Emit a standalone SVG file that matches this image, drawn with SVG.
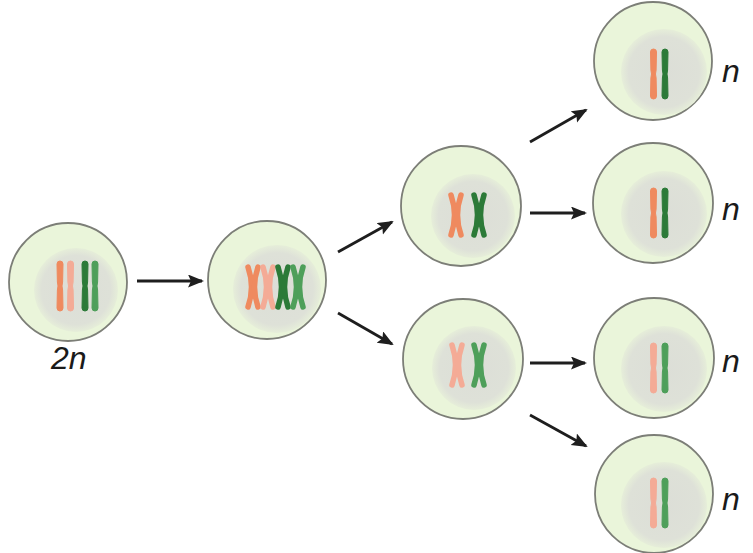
<svg xmlns="http://www.w3.org/2000/svg" width="753" height="553" viewBox="0 0 753 553">
  <style>
    .cell { fill: #eaf5da; stroke: #7c7e77; stroke-width: 1.8; }
    .nuc { fill: url(#nucGrad); }
    .arrow { stroke: #1e1e1e; stroke-width: 2.8; fill: none; marker-end: url(#head); }
    .lbl { font-family: "Liberation Sans", Arial, sans-serif; font-style: italic; font-size: 32px; fill: #1a1a1a; }
    .orange { fill: #ef8a5f; stroke: #ef8a5f; }
    .pink { fill: #f4ab96; stroke: #f4ab96; }
    .dkgreen { fill: #2c7a38; stroke: #2c7a38; }
    .mdgreen { fill: #4e9f5a; stroke: #4e9f5a; }
    .chromatid { fill: none; stroke-width: 5.5; stroke-linecap: round; }
  </style>
  <defs>
    <radialGradient id="nucGrad">
      <stop offset="0" stop-color="#dcded7"/>
      <stop offset="0.82" stop-color="#dee1d8"/>
      <stop offset="1" stop-color="#e6eed9"/>
    </radialGradient>
    <marker id="head" markerUnits="userSpaceOnUse" markerWidth="18" markerHeight="14" refX="14" refY="6.5" orient="auto">
      <path d="M0,0 L16,6.5 L0,13 L3,6.5 Z" fill="#1e1e1e"/>
    </marker>
    <!-- single unreplicated chromosome, pinched at the centromere -->
    <path id="bar" d="M-3,-22 Q-3,-25 0,-25 Q3,-25 3,-22 L2.6,-4 Q1.4,0 2.6,4 L3,22 Q3,25 0,25 Q-3,25 -3,22 L-2.6,4 Q-1.4,0 -2.6,-4 Z"/>
    <!-- replicated chromosome: two sister chromatids joined at the centromere -->
    <g id="xchrom">
      <path class="chromatid" d="M-5,-20 Q2,0 -5,20"/>
      <path class="chromatid" d="M5,-20 Q-2,0 5,20"/>
    </g>
  </defs>

  <!-- connectors -->
  <g id="connectors">
    <line class="arrow" x1="137" y1="281" x2="202" y2="281"/>
    <line class="arrow" x1="338" y1="252" x2="392" y2="222"/>
    <line class="arrow" x1="338" y1="313" x2="392" y2="344"/>
    <line class="arrow" x1="530" y1="142" x2="586" y2="110"/>
    <line class="arrow" x1="530" y1="213" x2="585" y2="213"/>
    <line class="arrow" x1="530" y1="363" x2="585" y2="363"/>
    <line class="arrow" x1="530" y1="415" x2="586" y2="446"/>
  </g>

  <!-- diploid parent cell -->
  <g id="cell-2n">
    <circle class="cell" cx="68" cy="282" r="59"/>
    <circle class="nuc" cx="76" cy="290" r="42"/>
    <use href="#bar" class="orange" x="60" y="286"/>
    <use href="#bar" class="pink" x="70.5" y="286"/>
    <use href="#bar" class="dkgreen" x="85" y="286"/>
    <use href="#bar" class="mdgreen" x="95" y="286"/>
    <text class="lbl" x="51" y="369">2n</text>
  </g>

  <!-- cell after DNA replication -->
  <g id="cell-replicated">
    <circle class="cell" cx="267" cy="280" r="59"/>
    <circle class="nuc" cx="277" cy="289" r="44"/>
    <use href="#xchrom" class="orange" x="253" y="287"/>
    <use href="#xchrom" class="pink" x="268" y="287"/>
    <use href="#xchrom" class="dkgreen" x="283" y="287"/>
    <use href="#xchrom" class="mdgreen" x="298" y="287"/>
  </g>

  <!-- meiosis I products -->
  <g id="cell-mI-top">
    <circle class="cell" cx="461" cy="206" r="60"/>
    <circle class="nuc" cx="473" cy="216" r="42"/>
    <use href="#xchrom" class="orange" x="456" y="215"/>
    <use href="#xchrom" class="dkgreen" x="479" y="215"/>
  </g>
  <g id="cell-mI-bottom">
    <circle class="cell" cx="463" cy="359" r="60"/>
    <circle class="nuc" cx="474" cy="368" r="42"/>
    <use href="#xchrom" class="pink" x="457" y="365"/>
    <use href="#xchrom" class="mdgreen" x="479" y="365"/>
  </g>

  <!-- haploid gametes -->
  <g id="gamete-1">
    <circle class="cell" cx="653" cy="61" r="59"/>
    <circle class="nuc" cx="664" cy="72" r="43"/>
    <use href="#bar" class="orange" x="653.5" y="74"/>
    <use href="#bar" class="dkgreen" x="665" y="74"/>
    <text class="lbl" x="722" y="82">n</text>
  </g>
  <g id="gamete-2">
    <circle class="cell" cx="653" cy="203" r="60"/>
    <circle class="nuc" cx="664" cy="214" r="43"/>
    <use href="#bar" class="orange" x="653.5" y="213"/>
    <use href="#bar" class="dkgreen" x="665" y="213"/>
    <text class="lbl" x="722" y="220">n</text>
  </g>
  <g id="gamete-3">
    <circle class="cell" cx="654" cy="358" r="60"/>
    <circle class="nuc" cx="664" cy="369" r="43"/>
    <use href="#bar" class="pink" x="653.5" y="368"/>
    <use href="#bar" class="mdgreen" x="665" y="368"/>
    <text class="lbl" x="722" y="372">n</text>
  </g>
  <g id="gamete-4">
    <circle class="cell" cx="654" cy="494" r="59"/>
    <circle class="nuc" cx="664" cy="505" r="43"/>
    <use href="#bar" class="pink" x="653.5" y="503"/>
    <use href="#bar" class="mdgreen" x="665" y="503"/>
    <text class="lbl" x="722" y="510">n</text>
  </g>
</svg>
